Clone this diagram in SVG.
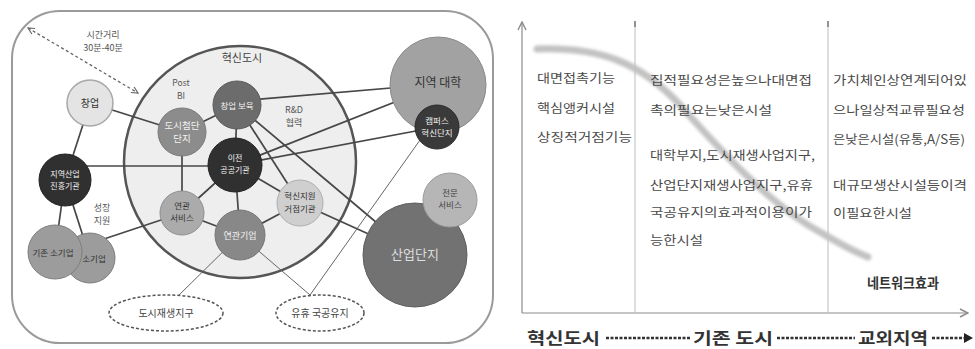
<svg xmlns="http://www.w3.org/2000/svg" width="975" height="349" viewBox="0 0 975 349">
  <style>
    text { font-family: "Noto Sans CJK KR", "Noto Sans", sans-serif; text-anchor: middle; }
    .lbl { font-size: 9px; fill: #555; }
    .nd-dark { font-size: 8px; fill: #f2f2f2; }
    .nd-light { font-size: 9px; fill: #333; }
    .conn { stroke: #474747; stroke-width: 1.7; fill: none; }
    .thin { stroke: #666; stroke-width: 1; fill: none; }
    .dash-ell { fill: #fff; stroke: #555; stroke-width: 1.5; stroke-dasharray: 3 2; }
    .col { font-size: 12.5px; fill: #4a4a4a; text-anchor: start; }
    .axis { stroke: #8a8a8a; stroke-width: 1.2; fill: none; }
    .div { stroke: #bdbdbd; stroke-width: 1; }
    .bottom { font-size: 16px; font-weight: bold; fill: #333; text-anchor: start; }
    .dots { stroke: #333; stroke-width: 2.5; stroke-dasharray: 3 1.5; }
  </style>
  <defs>
    <marker id="chev" viewBox="0 0 10 10" refX="9" refY="5" markerWidth="8" markerHeight="8" orient="auto-start-reverse" markerUnits="userSpaceOnUse">
      <path d="M1,1 L9,5 L1,9" fill="none" stroke="#666" stroke-width="1.5"/>
    </marker>
    <marker id="axhead" viewBox="0 0 10 10" refX="9" refY="5" markerWidth="10" markerHeight="10" orient="auto" markerUnits="userSpaceOnUse">
      <path d="M1,1 L9,5 L1,9" fill="none" stroke="#8a8a8a" stroke-width="1.4"/>
    </marker>
    <filter id="soft" x="-10%" y="-10%" width="120%" height="120%">
      <feGaussianBlur stdDeviation="1.8"/>
    </filter>
  </defs>

  <rect width="975" height="349" fill="#ffffff"/>

  <!-- left panel: commuting area frame -->
  <rect x="12" y="11" width="481" height="332" rx="48" ry="48" fill="#ffffff" stroke="#9a9a9a" stroke-width="2"/>

  <!-- innovation city core area -->
  <g id="innovation-city">
    <circle cx="240" cy="162" r="116" fill="#eeeeee" stroke="#555555" stroke-width="2.5"/>
    <text x="242" y="62" style="font-size:11px;fill:#444">혁신도시</text>
  </g>

  <!-- travel distance indicator -->
  <g id="travel-distance">
    <line x1="28" y1="28" x2="138" y2="93" stroke="#666" stroke-width="1.3" stroke-dasharray="3 2.5" marker-start="url(#chev)" marker-end="url(#chev)"/>
    <text class="lbl" x="103" y="38">시간거리</text>
    <text class="lbl" x="103" y="51">30분-40분</text>
  </g>

  <!-- connectors -->
  <g id="connectors">
    <line class="conn" x1="90" y1="103" x2="182" y2="132"/>
    <line class="conn" x1="90" y1="103" x2="65" y2="180"/>
    <line class="conn" x1="70" y1="166" x2="235" y2="166"/>
    <line class="conn" x1="65" y1="180" x2="55" y2="252"/>
    <line class="conn" x1="65" y1="180" x2="90" y2="258"/>
    <line class="conn" x1="95" y1="242" x2="182" y2="213"/>
    <line class="conn" x1="182" y1="132" x2="237" y2="105"/>
    <line class="conn" x1="182" y1="132" x2="182" y2="213"/>
    <line class="conn" x1="237" y1="105" x2="235" y2="165"/>
    <line class="conn" x1="235" y1="165" x2="182" y2="213"/>
    <line class="conn" x1="235" y1="165" x2="240" y2="235"/>
    <line class="conn" x1="235" y1="165" x2="300" y2="203"/>
    <line class="conn" x1="182" y1="213" x2="240" y2="235"/>
    <line class="conn" x1="240" y1="235" x2="300" y2="203"/>
    <line class="conn" x1="237" y1="101" x2="438" y2="84"/>
    <line class="conn" x1="235" y1="165" x2="438" y2="85"/>
    <line class="conn" x1="235" y1="165" x2="437" y2="127"/>
    <line class="conn" x1="237" y1="105" x2="300" y2="203"/>
    <line class="conn" x1="237" y1="105" x2="415" y2="255"/>
    <line class="conn" x1="300" y1="203" x2="415" y2="255"/>
    <line class="thin" x1="240" y1="235" x2="178" y2="296"/>
    <line class="thin" x1="240" y1="235" x2="310" y2="295"/>
    <line class="thin" x1="425" y1="133" x2="310" y2="295"/>
  </g>

  <g id="label-post-bi">
    <text class="lbl" x="181" y="86" style="font-size:8.5px">Post</text>
    <text class="lbl" x="181" y="99" style="font-size:8.5px">BI</text>
  </g>
  <g id="label-rnd">
    <text class="lbl" x="294" y="113">R&amp;D</text>
    <text class="lbl" x="294" y="126">협력</text>
  </g>
  <g id="label-growth">
    <text class="lbl" x="102" y="211">성장</text>
    <text class="lbl" x="102" y="224">지원</text>
  </g>

  <!-- nodes -->
  <g id="startup">
    <circle cx="90" cy="103" r="23" fill="#e4e4e4" stroke="#a8a8a8" stroke-width="1.5"/>
    <text x="90" y="107" style="font-size:10px;fill:#333">창업</text>
  </g>
  <g id="urban-hightech">
    <circle cx="182" cy="132" r="24" fill="#8c8c8c" stroke="#7a7a7a" stroke-width="1"/>
    <text class="nd-dark" x="182" y="129" style="font-size:9.5px">도시첨단</text>
    <text class="nd-dark" x="182" y="142" style="font-size:9.5px">단지</text>
  </g>
  <g id="incubation">
    <circle cx="237" cy="105" r="24" fill="#6c6c6c" stroke="#5a5a5a" stroke-width="1"/>
    <text class="nd-dark" x="237" y="109" style="font-size:8.5px">창업 보육</text>
  </g>
  <g id="public-agency">
    <circle cx="235" cy="165" r="27" fill="#303030" stroke="#222" stroke-width="1"/>
    <text class="nd-dark" x="235" y="161">이전</text>
    <text class="nd-dark" x="235" y="173">공공기관</text>
  </g>
  <g id="related-services">
    <circle cx="182" cy="213" r="22" fill="#ababab" stroke="#8e8e8e" stroke-width="1"/>
    <text class="nd-light" x="182" y="209" style="font-size:8.5px">연관</text>
    <text class="nd-light" x="182" y="221" style="font-size:8.5px">서비스</text>
  </g>
  <g id="related-firms">
    <circle cx="240" cy="235" r="25" fill="#888888" stroke="#767676" stroke-width="1"/>
    <text class="nd-dark" x="240" y="239" style="font-size:9px">연관기업</text>
  </g>
  <g id="support-hub">
    <circle cx="300" cy="203" r="23" fill="#cfcfcf" stroke="#adadad" stroke-width="1"/>
    <text class="nd-light" x="300" y="199" style="font-size:8.5px">혁신지원</text>
    <text class="nd-light" x="300" y="212" style="font-size:8.5px">거점기관</text>
  </g>
  <g id="regional-university">
    <circle cx="438" cy="85" r="48" fill="#a2a2a2" stroke="#8a8a8a" stroke-width="1"/>
    <text x="438" y="87" style="font-size:12px;fill:#333">지역 대학</text>
  </g>
  <g id="campus-park">
    <circle cx="437" cy="127" r="22" fill="#3a3a3a" stroke="#2a2a2a" stroke-width="1"/>
    <text class="nd-dark" x="437" y="124" style="font-size:8.5px">캠퍼스</text>
    <text class="nd-dark" x="437" y="136" style="font-size:8.5px">혁신단지</text>
  </g>
  <g id="industrial-complex">
    <circle cx="415" cy="255" r="52" fill="#727272" stroke="#606060" stroke-width="1"/>
    <text x="415" y="259" style="font-size:13px;fill:#dedede">산업단지</text>
  </g>
  <g id="professional-services">
    <circle cx="450" cy="200" r="27" fill="#b6b6b6" stroke="#9a9a9a" stroke-width="1"/>
    <text class="nd-light" x="450" y="196" style="font-size:8.5px;fill:#444">전문</text>
    <text class="nd-light" x="450" y="208" style="font-size:8.5px;fill:#444">서비스</text>
  </g>
  <g id="regional-promotion">
    <circle cx="65" cy="180" r="26" fill="#303030" stroke="#222" stroke-width="1"/>
    <text class="nd-dark" x="65" y="177">지역산업</text>
    <text class="nd-dark" x="65" y="189">진흥기관</text>
  </g>
  <g id="small-firms">
    <circle cx="90" cy="258" r="25" fill="#9c9c9c" stroke="#7e7e7e" stroke-width="1"/>
    <text class="nd-light" x="94" y="262" style="font-size:8.5px">소기업</text>
  </g>
  <g id="existing-small-firms">
    <circle cx="55" cy="252" r="27" fill="#9c9c9c" stroke="#7e7e7e" stroke-width="1"/>
    <text class="nd-light" x="53" y="256" style="font-size:8.5px">기존 소기업</text>
  </g>
  <g id="urban-regeneration">
    <ellipse class="dash-ell" cx="166" cy="313" rx="57" ry="18"/>
    <text x="166" y="317" style="font-size:10px;fill:#444">도시재생지구</text>
  </g>
  <g id="idle-public-land">
    <ellipse class="dash-ell" cx="320" cy="313" rx="44" ry="18"/>
    <text x="320" y="317" style="font-size:10px;fill:#444">유휴 국공유지</text>
  </g>

  <!-- right panel: facility type by location -->
  <g id="chart-axes">
    <line class="axis" x1="522" y1="313" x2="522" y2="22" marker-end="url(#axhead)"/>
    <line class="axis" x1="522" y1="313" x2="968" y2="313" marker-end="url(#axhead)"/>
    <line class="div" x1="635" y1="22" x2="635" y2="313"/>
    <line class="div" x1="828" y1="22" x2="828" y2="313"/>
    <line x1="635" y1="21" x2="635" y2="27" stroke="#777" stroke-width="1.5"/>
    <line x1="828" y1="21" x2="828" y2="27" stroke="#777" stroke-width="1.5"/>
  </g>

  <path id="network-curve" d="M537,49 C600,47 640,62 680,105 C720,150 770,205 820,232 C840,244 855,252 868,257" fill="none" stroke="#c2c2c2" stroke-width="7" stroke-linecap="round" filter="url(#soft)"/>

  <g id="column-innovation-city">
    <text class="col" x="537" y="83" textLength="78" lengthAdjust="spacingAndGlyphs">대면접촉기능</text>
    <text class="col" x="537" y="113" textLength="78" lengthAdjust="spacingAndGlyphs">핵심앵커시설</text>
    <text class="col" x="537" y="142" textLength="95" lengthAdjust="spacingAndGlyphs">상징적거점기능</text>
  </g>
  <g id="column-existing-city">
    <text class="col" x="650" y="84.5" textLength="162" lengthAdjust="spacingAndGlyphs">집적필요성은높으나대면접</text>
    <text class="col" x="650" y="114.5" textLength="122" lengthAdjust="spacingAndGlyphs">촉의필요는낮은시설</text>
    <text class="col" x="650" y="159.5" textLength="165" lengthAdjust="spacingAndGlyphs">대학부지,도시재생사업지구,</text>
    <text class="col" x="650" y="189.5" textLength="163" lengthAdjust="spacingAndGlyphs">산업단지재생사업지구,유휴</text>
    <text class="col" x="650" y="216.5" textLength="162" lengthAdjust="spacingAndGlyphs">국공유지의효과적이용이가</text>
    <text class="col" x="650" y="244.5" textLength="53" lengthAdjust="spacingAndGlyphs">능한시설</text>
  </g>
  <g id="column-suburb">
    <text class="col" x="833" y="84.5" textLength="134" lengthAdjust="spacingAndGlyphs">가치체인상연계되어있</text>
    <text class="col" x="833" y="114.5" textLength="132" lengthAdjust="spacingAndGlyphs">으나일상적교류필요성</text>
    <text class="col" x="833" y="143.5" textLength="132" lengthAdjust="spacingAndGlyphs">은낮은시설(유통,A/S등)</text>
    <text class="col" x="833" y="189.5" textLength="134" lengthAdjust="spacingAndGlyphs">대규모생산시설등이격</text>
    <text class="col" x="833" y="217.5" textLength="79" lengthAdjust="spacingAndGlyphs">이필요한시설</text>
  </g>
  <text x="903" y="288" style="font-size:14px;font-weight:bold;fill:#333" textLength="72" lengthAdjust="spacingAndGlyphs">네트워크효과</text>

  <!-- location scale -->
  <g id="location-scale">
    <text class="bottom" x="527" y="344" textLength="73" lengthAdjust="spacingAndGlyphs">혁신도시</text>
    <line class="dots" x1="606" y1="338" x2="690" y2="338"/>
    <text class="bottom" x="693" y="344" textLength="80" lengthAdjust="spacingAndGlyphs">기존 도시</text>
    <line class="dots" x1="777" y1="338" x2="855" y2="338"/>
    <text class="bottom" x="858" y="344" textLength="70" lengthAdjust="spacingAndGlyphs">교외지역</text>
    <line class="dots" x1="932" y1="338" x2="964" y2="338"/>
    <path d="M964,333 L973,338 L964,343 Z" fill="#222"/>
  </g>
</svg>
